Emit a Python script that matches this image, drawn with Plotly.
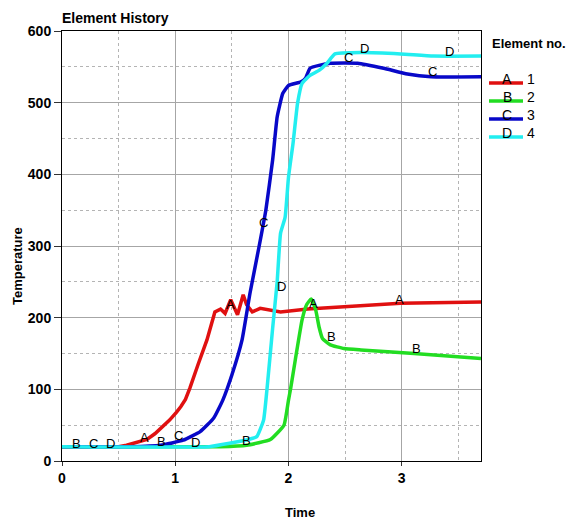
import plotly.graph_objects as go

# ---- data ----
time_A = [0, 0.5, 0.57, 0.65, 0.75, 0.82, 0.89, 0.95, 1.01, 1.05, 1.09, 1.13, 1.2, 1.28, 1.35, 1.40, 1.44, 1.49, 1.55, 1.60, 1.63, 1.68, 1.75, 1.93, 2.17, 2.5, 2.99, 3.7]
temp_A = [20, 20, 22, 25, 30, 38, 48, 57, 68, 76, 86, 102, 134, 169, 208, 212, 206, 225, 204, 232, 218, 208, 213, 208, 212, 215, 220, 222]

time_B = [0, 1.4, 1.63, 1.84, 1.96, 2.0, 2.02, 2.06, 2.12, 2.16, 2.20, 2.24, 2.27, 2.30, 2.37, 2.49, 2.64, 3.11, 3.7]
temp_B = [20, 20, 22, 30, 50, 85, 102, 141, 197, 218, 226, 211, 187, 171, 162, 157, 155, 150, 143]

time_C = [0, 0.6, 0.87, 1.07, 1.22, 1.34, 1.42, 1.50, 1.59, 1.66, 1.74, 1.80, 1.86, 1.90, 1.95, 2.0, 2.11, 2.15, 2.19, 2.27, 2.37, 2.61, 2.84, 3.05, 3.26, 3.7]
temp_C = [20, 20, 22, 29, 41, 60, 85, 120, 169, 234, 299, 350, 420, 480, 513, 524, 529, 534, 548, 552, 555, 555, 548, 540, 536, 536]

time_D = [0, 1.3, 1.49, 1.65, 1.72, 1.78, 1.81, 1.86, 1.90, 1.93, 1.97, 2.0, 2.04, 2.08, 2.12, 2.19, 2.27, 2.34, 2.41, 2.64, 2.99, 3.28, 3.7]
temp_D = [20, 20, 25, 30, 34, 57, 100, 185, 250, 318, 340, 396, 443, 499, 527, 538, 545, 555, 568, 570, 568, 565, 565]

series_letters = ["A", "B", "C", "D"]
series_numbers = ["1", "2", "3", "4"]
series_colors = ["#e01010", "#22dd22", "#0808c8", "#22eef0"]
series_shapes = ["linear", "spline", "spline", "spline"]

label_text = ["B", "C", "D",
              "A", "B", "C", "D",
              "A", "B", "C", "D",
              "A", "B", "C", "D",
              "A", "B", "C", "D",
              "A"]
label_time = [0.13, 0.28, 0.43,
              0.73, 0.88, 1.03, 1.18,
              1.49, 1.63, 1.78, 1.94,
              2.22, 2.38, 2.53, 2.67,
              2.98, 3.13, 3.27, 3.42,
              3.73]
label_temp = [25, 25, 25,
              33, 27, 36, 26,
              218, 28, 333, 244,
              220, 174, 563, 576,
              225, 157, 544, 572,
              227]

x_ticks = [0, 1, 2, 3]
y_ticks = [0, 100, 200, 300, 400, 500, 600]

# ---- layout geometry (pixels) ----
W, H = 579, 522
L, R, T, B = 62, 481, 31, 461
FONT = "Liberation Sans, Arial, sans-serif"


def px(xp):
    return (xp - L) / (R - L)


def py(yp):
    return (B - yp) / (B - T)


fig = go.Figure()
series = [(time_A, temp_A), (time_B, temp_B), (time_C, temp_C), (time_D, temp_D)]
for (tt, vv), letter, num, col, shp in zip(series, series_letters, series_numbers, series_colors, series_shapes):
    fig.add_trace(go.Scatter(x=tt, y=vv, mode="lines", name=f"{letter} {num}",
                             line=dict(color=col, width=3.5, shape=shp, smoothing=0.4),
                             showlegend=False))

annotations = []
for txt, tx, ty in zip(label_text, label_time, label_temp):
    annotations.append(dict(x=tx, y=ty, xref="x", yref="y", text=txt, showarrow=False,
                            xanchor="center", yanchor="middle",
                            font=dict(family=FONT, size=13, color="black")))

# custom legend
annotations.append(dict(x=px(490), y=py(43), xref="paper", yref="paper", text="Element no.",
                        showarrow=False, xanchor="left", yanchor="middle",
                        font=dict(family=FONT, size=13, color="black", weight="bold")))
shapes = []
for i, (letter, num, col) in enumerate(zip(series_letters, series_numbers, series_colors)):
    yline = 83 + 18 * i
    shapes.append(dict(type="line", xref="paper", yref="paper",
                       x0=px(489), x1=px(523), y0=py(yline), y1=py(yline),
                       line=dict(color=col, width=3.5)))
    annotations.append(dict(x=px(507), y=py(yline - 4), xref="paper", yref="paper", text=letter,
                            showarrow=False, xanchor="center", yanchor="middle",
                            font=dict(family=FONT, size=14, color="black")))
    annotations.append(dict(x=px(525), y=py(yline - 4), xref="paper", yref="paper", text=num,
                            showarrow=False, xanchor="left", yanchor="middle",
                            font=dict(family=FONT, size=14, color="black")))

# axis titles
annotations.append(dict(x=px(300), y=py(512), xref="paper", yref="paper", text="Time",
                        showarrow=False, xanchor="center", yanchor="middle",
                        font=dict(family=FONT, size=13, color="black", weight="bold")))
annotations.append(dict(x=px(17), y=py(266), xref="paper", yref="paper", text="Temperature",
                        showarrow=False, xanchor="center", yanchor="middle", textangle=-90,
                        font=dict(family=FONT, size=13, color="black", weight="bold")))

axis_common = dict(
    showline=True, linecolor="black", linewidth=1, mirror=True,
    showgrid=True, gridcolor="#a6a6a6", gridwidth=1,
    zeroline=False, ticks="outside", tickcolor="#333333",
    tickfont=dict(family=FONT, size=14, color="black", weight="bold"),
)

fig.update_layout(
    width=W, height=H,
    margin=dict(l=L, r=W - R, t=T, b=H - B),
    paper_bgcolor="white", plot_bgcolor="white",
    title=dict(text="Element History", x=L / W, xanchor="left", xref="container",
               y=1 - 18 / H, yanchor="middle", yref="container",
               font=dict(family=FONT, size=14, color="black", weight="bold")),
    xaxis=dict(range=[0, 3.7], tickvals=x_ticks, ticktext=[str(v) for v in x_ticks], ticklen=4,
               minor=dict(dtick=0.5, tick0=0, showgrid=True, gridcolor="#b4b4b4",
                          griddash="3px,3px", gridwidth=1, ticks=""),
               **axis_common),
    yaxis=dict(range=[0, 600], tickvals=y_ticks, ticktext=[str(v) for v in y_ticks], ticklen=7,
               minor=dict(dtick=50, tick0=0, showgrid=True, gridcolor="#b4b4b4",
                          griddash="3px,3px", gridwidth=1, ticks=""),
               **axis_common),
    annotations=annotations,
    shapes=shapes,
    showlegend=False,
)

fig.write_html("out.html", config={"displayModeBar": False},
               post_script="document.body.style.margin='0';document.body.style.overflow='hidden';")
